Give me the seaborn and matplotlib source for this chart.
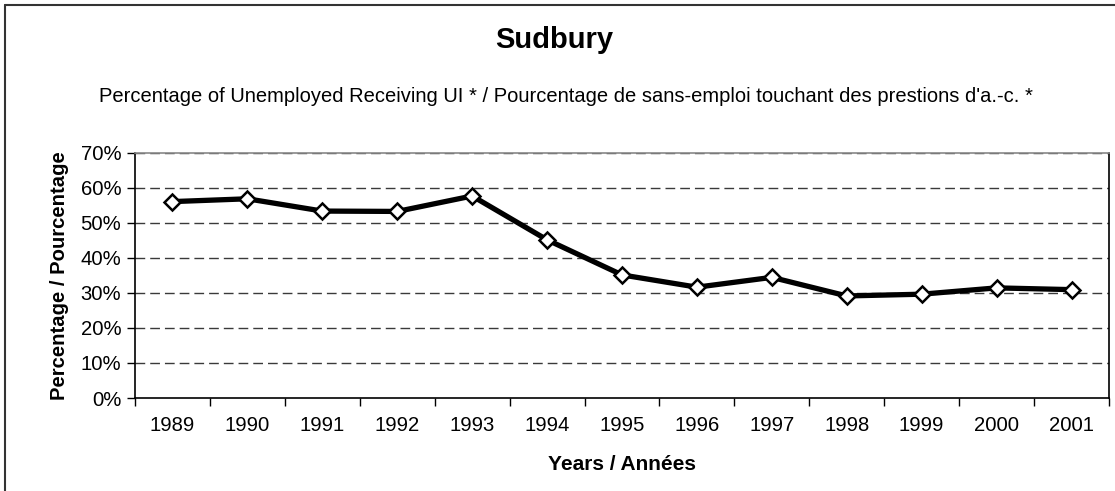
import numpy as np
import pandas as pd
import seaborn as sns
import matplotlib.pyplot as plt
from matplotlib.lines import Line2D
from matplotlib.ticker import FixedLocator, PercentFormatter

years = ['1989', '1990', '1991', '1992', '1993', '1994', '1995',
         '1996', '1997', '1998', '1999', '2000', '2001']
pct = [56.0, 56.8, 53.3, 53.2, 57.6, 45.1, 35.1, 31.6, 34.4, 29.1, 29.6, 31.4, 30.9]
yticks = [0, 10, 20, 30, 40, 50, 60, 70]

df = pd.DataFrame({'pos': np.arange(len(years)), 'pct': pct})

sns.set_style('white')
plt.rcParams['font.family'] = ['Liberation Sans', 'DejaVu Sans']
plt.rcParams['text.color'] = 'black'
plt.rcParams['axes.labelcolor'] = 'black'
plt.rcParams['xtick.color'] = 'black'
plt.rcParams['ytick.color'] = 'black'

fig = plt.figure(figsize=(11.15, 4.91), dpi=100)
ax = fig.add_axes([0.1211, 0.1894, 0.9946 - 0.1211, 0.6894 - 0.1894])

for v in yticks[1:]:
    ax.axhline(v, color='#3a3a3a', lw=1, ls=(0, (7, 3.6)), zorder=1)

sns.lineplot(data=df, x='pos', y='pct', ax=ax, color='black', lw=3.8,
             marker='D', markersize=8.5, markerfacecolor='white',
             markeredgecolor='black', markeredgewidth=1.8, zorder=3)

ax.set_xlim(-0.5, len(years) - 0.5)
ax.set_ylim(0, 70)
ax.set_xticks(df['pos'])
ax.set_xticklabels(years)
ax.xaxis.set_minor_locator(FixedLocator(np.arange(-0.5, len(years), 1.0)))
ax.tick_params(axis='x', which='major', length=0, pad=13, labelsize=14.6)
ax.tick_params(axis='x', which='minor', length=6, width=1, color='black',
               direction='out', bottom=True)
ax.set_yticks(yticks)
ax.yaxis.set_major_formatter(PercentFormatter(decimals=0))
ax.tick_params(axis='y', length=6, width=1, color='black', direction='out',
               left=True, pad=4, labelsize=14.6)

for side in ['left', 'bottom', 'right']:
    ax.spines[side].set_color('black')
    ax.spines[side].set_linewidth(1.2)
ax.spines['top'].set_color('#888888')
ax.spines['top'].set_linewidth(1.2)

ax.set_xlabel('Years / Années', fontsize=15, fontweight='bold', labelpad=14)
ax.set_ylabel('Percentage / Pourcentage', fontsize=14.6, fontweight='bold',
              labelpad=8)

fig.text(0.497, 1 - 40 / 491, 'Sudbury', ha='center', va='center',
         fontsize=21, fontweight='bold')
fig.text(0.508, 1 - 97 / 491,
         "Percentage of Unemployed Receiving UI * / Pourcentage de sans-emploi "
         "touchant des prestions d'a.-c. *",
         ha='center', va='center', fontsize=14.5)

fig.add_artist(Line2D([0.0045, 0.0045], [0, 0.9898], color='#333333', lw=1.5))
fig.add_artist(Line2D([0.0045, 1], [0.9898, 0.9898], color='#333333', lw=1.5))

fig.savefig('out.png', dpi=100)
